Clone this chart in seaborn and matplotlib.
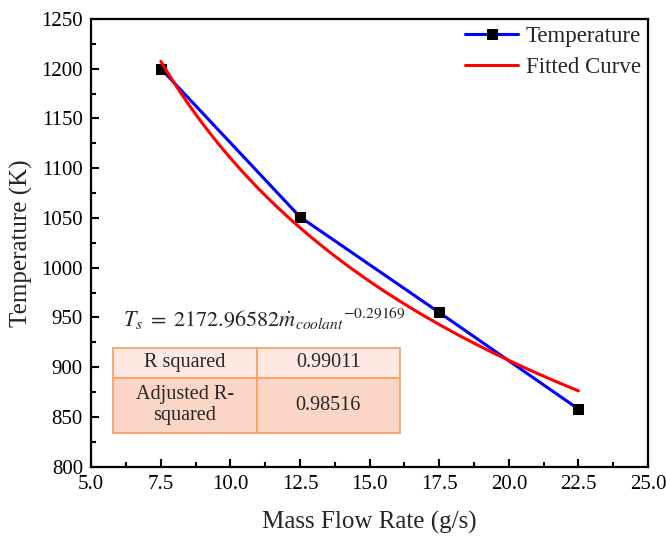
import numpy as np
import pandas as pd
import matplotlib
matplotlib.use("Agg")
import matplotlib.pyplot as plt
from matplotlib.ticker import MultipleLocator, FormatStrFormatter
import seaborn as sns

# Data
mass_flow = [7.5, 12.5, 17.5, 22.5]
temperature = [1200, 1051, 955, 858]
fit_coef = 2172.96582
fit_exp = -0.29169
table_labels = ["R squared", "Adjusted R-\nsquared"]
table_values = ["0.99011", "0.98516"]

sns.set_theme(style="white")
plt.rcParams['font.family'] = ['Liberation Serif', 'DejaVu Serif']
plt.rcParams['mathtext.fontset'] = 'stix'

fig = plt.figure(figsize=(6.66, 5.39), dpi=100)
ax = fig.add_axes([0.137, 0.134, 0.836, 0.831])

df = pd.DataFrame({"x": mass_flow, "T": temperature})
xfit = np.linspace(mass_flow[0], mass_flow[-1], 200)
fit_df = pd.DataFrame({"x": xfit, "T": fit_coef * xfit ** fit_exp})

sns.lineplot(data=df, x="x", y="T", ax=ax, color="#0000ff", lw=2.2,
             marker="s", markersize=7, markerfacecolor="black",
             markeredgecolor="black", label="Temperature")
sns.lineplot(data=fit_df, x="x", y="T", ax=ax, color="#ff0000", lw=2.2,
             label="Fitted Curve")

ax.set_xlim(5, 25)
ax.set_ylim(800, 1250)
ax.xaxis.set_major_locator(MultipleLocator(2.5))
ax.xaxis.set_minor_locator(MultipleLocator(1.25))
ax.yaxis.set_major_locator(MultipleLocator(50))
ax.yaxis.set_minor_locator(MultipleLocator(25))
ax.xaxis.set_major_formatter(FormatStrFormatter('%.1f'))
ax.tick_params(which='both', direction='in', bottom=True, left=True,
               top=False, right=False, width=1.5, colors='black')
ax.tick_params(which='major', length=6, labelsize=15, pad=6)
ax.tick_params(which='minor', length=3.5)
for s in ax.spines.values():
    s.set_linewidth(1.6)
    s.set_color('black')

ax.set_xlabel("Mass Flow Rate (g/s)", fontsize=18, labelpad=12)
ax.set_ylabel("Temperature (K)", fontsize=18, labelpad=6)

leg = ax.legend(loc='upper right', frameon=False, fontsize=16.5,
                handlelength=2.3, borderaxespad=0.0, labelspacing=0.45,
                handletextpad=0.35, borderpad=0.3)

ax.text(6.15, 940, r'$T_s\;=\;2172.96582\dot{m}_{coolant}{}^{-0.29169}$',
        fontsize=16, va='baseline', ha='left')

tbl = ax.table(cellText=[[table_labels[0], table_values[0]],
                         [table_labels[1], table_values[1]]],
               cellLoc='center',
               cellColours=[["#fde9e1", "#fde9e1"], ["#fbd5c6", "#fbd5c6"]],
               bbox=[0.0395, 0.076, 0.515, 0.19])
tbl.auto_set_font_size(False)
for (r, c), cell in tbl.get_celld().items():
    cell.set_edgecolor("#f5a36e")
    cell.set_linewidth(1.3)
    cell.get_text().set_fontsize(14.5)
    cell.get_text().set_linespacing(1.1)
    cell.set_height(30 if r == 0 else 55)

fig.savefig("out.png", dpi=100)
